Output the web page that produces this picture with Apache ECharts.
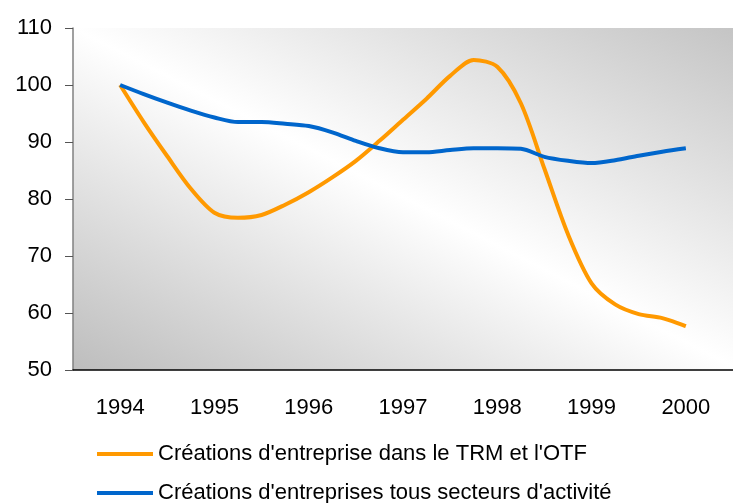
<!DOCTYPE html>
<html>
<head>
<meta charset="utf-8">
<script src="https://cdn.jsdelivr.net/npm/echarts@6/dist/echarts.min.js"></script>
<style>
  html, body { margin: 0; padding: 0; background: #fff; }
  #chart { width: 733px; height: 503px; }
</style>
</head>
<body>
<div id="chart"></div>
<script>
// années affichées sur l'axe
var years = ['1994', '1995', '1996', '1997', '1998', '1999', '2000'];
// positions trimestrielles (en années)
var quarters = [1994, 1994.25, 1994.5, 1994.75, 1995, 1995.25, 1995.5, 1995.75,
    1996, 1996.25, 1996.5, 1996.75, 1997, 1997.25, 1997.5, 1997.75,
    1998, 1998.25, 1998.5, 1998.75, 1999, 1999.25, 1999.5, 1999.75, 2000];
// Créations d'entreprise dans le TRM et l'OTF (base 100 en 1994)
var trmOtf = [100, 93.5, 87.5, 81.8, 77.6, 76.7, 77.2, 79.0,
    81.2, 83.8, 86.7, 90.2, 93.9, 97.6, 101.6, 104.4,
    103.2, 96.8, 85.3, 73.8, 65.2, 61.5, 59.8, 59.1, 57.7];
// Créations d'entreprises tous secteurs d'activité
var tousSecteurs = [100, 98.4, 96.9, 95.5, 94.3, 93.5, 93.5, 93.2,
    92.8, 91.7, 90.2, 88.9, 88.2, 88.2, 88.6, 88.9,
    88.9, 88.8, 87.4, 86.7, 86.3, 86.8, 87.6, 88.3, 88.9];
var yTicks = [50, 110, 10];

var names = ["Créations d'entreprise dans le TRM et l'OTF",
    "Créations d'entreprises tous secteurs d'activité"];
var colors = ['#FF9900', '#0066CC'];

function pairs(vals) {
    return quarters.map(function (q, i) { return [q, vals[i]]; });
}

var myChart = echarts.init(document.getElementById('chart'));
var font = "'Liberation Sans', Arial, sans-serif";

// une légende par ligne, pour garder l'empilement vertical
function legendAt(name, top) {
    return {
        left: 97,
        top: top,
        padding: 0,
        icon: 'rect',
        itemWidth: 56,
        itemHeight: 4,
        selectedMode: false,
        textStyle: { fontFamily: font, fontSize: 22, color: '#000' },
        data: [name]
    };
}

var option = {
    backgroundColor: '#fff',
    animation: false,
    grid: {
        left: 73,
        top: 28,
        width: 668,
        height: 342,
        show: true,
        borderWidth: 0,
        // dégradé diagonal gris / blanc / gris
        backgroundColor: new echarts.graphic.LinearGradient(268, 470, 546, -72, [
            { offset: 0, color: '#bdbdbd' },
            { offset: 0.5, color: '#ffffff' },
            { offset: 1, color: '#c4c4c4' }
        ], true)
    },
    legend: [legendAt(names[0], 443), legendAt(names[1], 482)],
    xAxis: [{
        type: 'category',
        data: years,
        boundaryGap: true,
        axisLine: { lineStyle: { color: '#000', width: 1.5 } },
        axisTick: { length: 7, lineStyle: { color: '#333' } },
        axisLabel: { fontFamily: font, fontSize: 22, color: '#000', margin: 27 },
        splitLine: { show: false }
    }, {
        type: 'value',
        min: 1993.5,
        max: 2000.5,
        show: false,
        splitLine: { show: false }
    }],
    yAxis: {
        type: 'value',
        min: yTicks[0],
        max: yTicks[1],
        interval: yTicks[2],
        axisLine: { show: true, lineStyle: { color: '#808080', width: 1.5 } },
        axisTick: { show: true, length: 8, lineStyle: { color: '#555' } },
        axisLabel: { fontFamily: font, fontSize: 22, color: '#000', margin: 21 },
        splitLine: { show: false }
    },
    series: [{
        name: names[0],
        type: 'line',
        xAxisIndex: 1,
        smooth: 0.3,
        symbol: 'none',
        lineStyle: { color: colors[0], width: 4 },
        itemStyle: { color: colors[0] },
        data: pairs(trmOtf)
    }, {
        name: names[1],
        type: 'line',
        xAxisIndex: 1,
        smooth: 0.3,
        symbol: 'none',
        lineStyle: { color: colors[1], width: 4 },
        itemStyle: { color: colors[1] },
        data: pairs(tousSecteurs)
    }]
};
myChart.setOption(option);

window.onresize = function () {
    myChart.resize();
};
</script>
</body>
</html>
